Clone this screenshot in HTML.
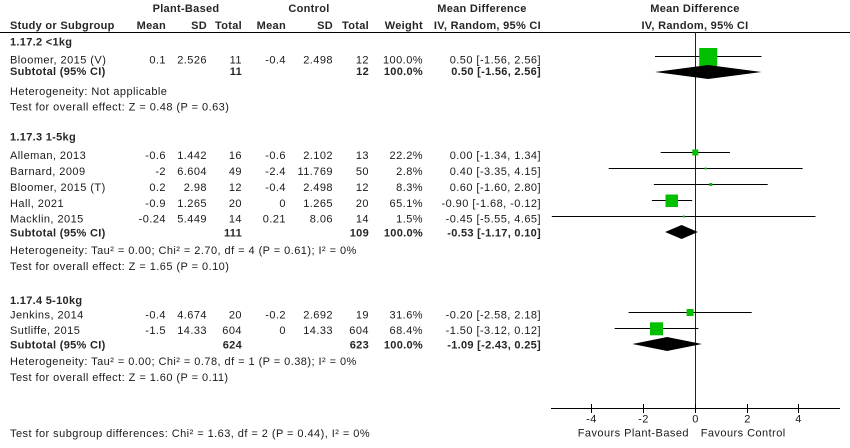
<!DOCTYPE html>
<html>
<head>
<meta charset="utf-8">
<style>
html,body{margin:0;padding:0;background:#fff;}
body{width:850px;height:448px;overflow:hidden;}
svg{display:block;}
text{font-family:"Liberation Sans",Arial,sans-serif;font-size:11px;fill:#1a1a1a;}
.r{letter-spacing:0.45px;}
.b{font-weight:bold;letter-spacing:0.3px;fill:#262626;}
.e{text-anchor:end;}
.m{text-anchor:middle;}
</style>
</head>
<body>
<svg width="850" height="448" viewBox="0 0 850 448" xmlns="http://www.w3.org/2000/svg">
<!-- Header -->
<text class="b m" x="186" y="12">Plant-Based</text>
<text class="b m" x="309" y="12">Control</text>
<text class="b m" x="482" y="12">Mean Difference</text>
<text class="b m" x="695" y="12">Mean Difference</text>

<text class="b" x="10" y="29">Study or Subgroup</text>
<text class="b e" x="166" y="29">Mean</text>
<text class="b e" x="207" y="29">SD</text>
<text class="b e" x="242" y="29">Total</text>
<text class="b e" x="286" y="29">Mean</text>
<text class="b e" x="333" y="29">SD</text>
<text class="b e" x="369" y="29">Total</text>
<text class="b e" x="423" y="29">Weight</text>
<text class="b e" x="541" y="29">IV, Random, 95% CI</text>
<text class="b m" x="695" y="29">IV, Random, 95% CI</text>

<line x1="0" y1="32.5" x2="850" y2="32.5" stroke="#000" stroke-width="1"/>

<!-- Group 1 -->
<text class="b" x="10" y="45.6">1.17.2 &lt;1kg</text>
<text class="r" x="10" y="63.4">Bloomer, 2015 (V)</text>
<text class="r e" x="166" y="63.4">0.1</text>
<text class="r e" x="207" y="63.4">2.526</text>
<text class="r e" x="242" y="63.4">11</text>
<text class="r e" x="286" y="63.4">-0.4</text>
<text class="r e" x="333" y="63.4">2.498</text>
<text class="r e" x="369" y="63.4">12</text>
<text class="r e" x="423" y="63.4">100.0%</text>
<text class="r e" x="541" y="63.4">0.50 [-1.56, 2.56]</text>
<text class="b" x="10" y="74.8">Subtotal (95% CI)</text>
<text class="b e" x="242" y="74.8">11</text>
<text class="b e" x="369" y="74.8">12</text>
<text class="b e" x="423" y="74.8">100.0%</text>
<text class="b e" x="541" y="74.8">0.50 [-1.56, 2.56]</text>
<text class="r" x="10" y="95.2">Heterogeneity: Not applicable</text>
<text class="r" x="10" y="110.6">Test for overall effect: Z = 0.48 (P = 0.63)</text>

<!-- Group 2 -->
<text class="b" x="10" y="140.4">1.17.3 1-5kg</text>

<text class="r" x="10" y="159.1">Alleman, 2013</text>
<text class="r e" x="166" y="159.1">-0.6</text>
<text class="r e" x="207" y="159.1">1.442</text>
<text class="r e" x="242" y="159.1">16</text>
<text class="r e" x="286" y="159.1">-0.6</text>
<text class="r e" x="333" y="159.1">2.102</text>
<text class="r e" x="369" y="159.1">13</text>
<text class="r e" x="423" y="159.1">22.2%</text>
<text class="r e" x="541" y="159.1">0.00 [-1.34, 1.34]</text>

<text class="r" x="10" y="175">Barnard, 2009</text>
<text class="r e" x="166" y="175">-2</text>
<text class="r e" x="207" y="175">6.604</text>
<text class="r e" x="242" y="175">49</text>
<text class="r e" x="286" y="175">-2.4</text>
<text class="r e" x="333" y="175">11.769</text>
<text class="r e" x="369" y="175">50</text>
<text class="r e" x="423" y="175">2.8%</text>
<text class="r e" x="541" y="175">0.40 [-3.35, 4.15]</text>

<text class="r" x="10" y="190.9">Bloomer, 2015 (T)</text>
<text class="r e" x="166" y="190.9">0.2</text>
<text class="r e" x="207" y="190.9">2.98</text>
<text class="r e" x="242" y="190.9">12</text>
<text class="r e" x="286" y="190.9">-0.4</text>
<text class="r e" x="333" y="190.9">2.498</text>
<text class="r e" x="369" y="190.9">12</text>
<text class="r e" x="423" y="190.9">8.3%</text>
<text class="r e" x="541" y="190.9">0.60 [-1.60, 2.80]</text>

<text class="r" x="10" y="206.8">Hall, 2021</text>
<text class="r e" x="166" y="206.8">-0.9</text>
<text class="r e" x="207" y="206.8">1.265</text>
<text class="r e" x="242" y="206.8">20</text>
<text class="r e" x="286" y="206.8">0</text>
<text class="r e" x="333" y="206.8">1.265</text>
<text class="r e" x="369" y="206.8">20</text>
<text class="r e" x="423" y="206.8">65.1%</text>
<text class="r e" x="541" y="206.8">-0.90 [-1.68, -0.12]</text>

<text class="r" x="10" y="222.7">Macklin, 2015</text>
<text class="r e" x="166" y="222.7">-0.24</text>
<text class="r e" x="207" y="222.7">5.449</text>
<text class="r e" x="242" y="222.7">14</text>
<text class="r e" x="286" y="222.7">0.21</text>
<text class="r e" x="333" y="222.7">8.06</text>
<text class="r e" x="369" y="222.7">14</text>
<text class="r e" x="423" y="222.7">1.5%</text>
<text class="r e" x="541" y="222.7">-0.45 [-5.55, 4.65]</text>

<text class="b" x="10" y="236.6">Subtotal (95% CI)</text>
<text class="b e" x="242" y="236.6">111</text>
<text class="b e" x="369" y="236.6">109</text>
<text class="b e" x="423" y="236.6">100.0%</text>
<text class="b e" x="541" y="236.6">-0.53 [-1.17, 0.10]</text>
<text class="r" x="10" y="254.1">Heterogeneity: Tau² = 0.00; Chi² = 2.70, df = 4 (P = 0.61); I² = 0%</text>
<text class="r" x="10" y="269.9">Test for overall effect: Z = 1.65 (P = 0.10)</text>

<!-- Group 3 -->
<text class="b" x="10" y="303.9">1.17.4 5-10kg</text>

<text class="r" x="10" y="318.6">Jenkins, 2014</text>
<text class="r e" x="166" y="318.6">-0.4</text>
<text class="r e" x="207" y="318.6">4.674</text>
<text class="r e" x="242" y="318.6">20</text>
<text class="r e" x="286" y="318.6">-0.2</text>
<text class="r e" x="333" y="318.6">2.692</text>
<text class="r e" x="369" y="318.6">19</text>
<text class="r e" x="423" y="318.6">31.6%</text>
<text class="r e" x="541" y="318.6">-0.20 [-2.58, 2.18]</text>

<text class="r" x="10" y="333.9">Sutliffe, 2015</text>
<text class="r e" x="166" y="333.9">-1.5</text>
<text class="r e" x="207" y="333.9">14.33</text>
<text class="r e" x="242" y="333.9">604</text>
<text class="r e" x="286" y="333.9">0</text>
<text class="r e" x="333" y="333.9">14.33</text>
<text class="r e" x="369" y="333.9">604</text>
<text class="r e" x="423" y="333.9">68.4%</text>
<text class="r e" x="541" y="333.9">-1.50 [-3.12, 0.12]</text>

<text class="b" x="10" y="348.6">Subtotal (95% CI)</text>
<text class="b e" x="242" y="348.6">624</text>
<text class="b e" x="369" y="348.6">623</text>
<text class="b e" x="423" y="348.6">100.0%</text>
<text class="b e" x="541" y="348.6">-1.09 [-2.43, 0.25]</text>
<text class="r" x="10" y="365.2">Heterogeneity: Tau² = 0.00; Chi² = 0.78, df = 1 (P = 0.38); I² = 0%</text>
<text class="r" x="10" y="381.2">Test for overall effect: Z = 1.60 (P = 0.11)</text>

<text class="r" x="10" y="437.2">Test for subgroup differences: Chi² = 1.63, df = 2 (P = 0.44), I² = 0%</text>

<!-- Plot -->
<line x1="695.5" y1="32" x2="695.5" y2="408" stroke="#222" stroke-width="1"/>

<!-- CI lines -->
<g stroke="#000" stroke-width="1">
<line x1="655" y1="56.5" x2="761.5" y2="56.5"/>
<line x1="660.7" y1="152.5" x2="729.9" y2="152.5"/>
<line x1="608.7" y1="168.5" x2="802.6" y2="168.5"/>
<line x1="653.9" y1="184.5" x2="767.7" y2="184.5"/>
<line x1="651.9" y1="200.5" x2="692.2" y2="200.5"/>
<line x1="551.8" y1="216.5" x2="815.5" y2="216.5"/>
<line x1="628.6" y1="312.5" x2="751.7" y2="312.5"/>
<line x1="614.6" y1="328.5" x2="698.4" y2="328.5"/>
</g>

<!-- Squares -->
<g fill="#00c000">
<rect x="699.2" y="48" width="18" height="18"/>
<rect x="692.3" y="149.5" width="6" height="6"/>
<rect x="704.6" y="167.5" width="2" height="2"/>
<rect x="709.3" y="183" width="3" height="3"/>
<rect x="665.5" y="194.5" width="12.5" height="12.5"/>
<rect x="682.7" y="215.5" width="2" height="2"/>
<rect x="686.6" y="309" width="7" height="7"/>
<rect x="650" y="322.3" width="13" height="13"/>
</g>

<!-- Diamonds -->
<g fill="#000">
<polygon points="655,72 708.2,65 761.5,72 708.2,79"/>
<polygon points="665.1,232 681.6,225 697.9,232 681.6,239"/>
<polygon points="632.5,344 667.1,337 701.8,344 667.1,351"/>
</g>

<!-- Axis -->
<g stroke="#000" stroke-width="1">
<line x1="551" y1="408.5" x2="840" y2="408.5"/>
<line x1="591.5" y1="404" x2="591.5" y2="413"/>
<line x1="643.5" y1="404" x2="643.5" y2="413"/>
<line x1="695.5" y1="404" x2="695.5" y2="413"/>
<line x1="747.5" y1="404" x2="747.5" y2="413"/>
<line x1="798.5" y1="404" x2="798.5" y2="413"/>
</g>
<text class="r m" x="591.5" y="422.7">-4</text>
<text class="r m" x="643.5" y="422.7">-2</text>
<text class="r m" x="695.5" y="422.7">0</text>
<text class="r m" x="747.5" y="422.7">2</text>
<text class="r m" x="798.5" y="422.7">4</text>
<text class="r e" x="689" y="436.4">Favours Plant-Based</text>
<text class="r" x="700.7" y="436.4">Favours Control</text>
</svg>
</body>
</html>
